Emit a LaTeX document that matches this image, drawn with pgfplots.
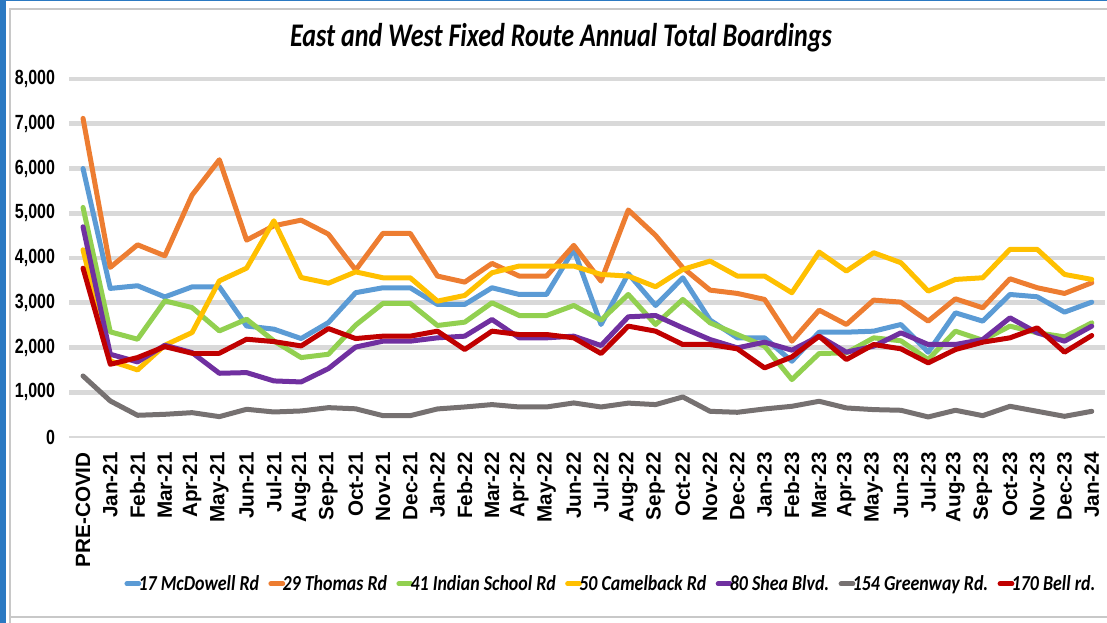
\documentclass[border=0pt]{standalone}
\usepackage{pgfplots}
\pgfplotsset{compat=1.18}
\usepackage{pgfplotstable}
\usepackage{graphicx}
\usepackage{fontspec}
\setmainfont{Carlito}
\newfontfamily\tickfont{Liberation Sans}

\definecolor{cMcD}{HTML}{5B9BD5}
\definecolor{cTho}{HTML}{ED7D31}
\definecolor{cInd}{HTML}{92D050}
\definecolor{cCam}{HTML}{FFC000}
\definecolor{cShe}{HTML}{7030A0}
\definecolor{cGre}{HTML}{767171}
\definecolor{cBel}{HTML}{C00000}
\definecolor{gridgray}{HTML}{D9D9D9}
\definecolor{frameblue}{RGB}{43,121,194}
\definecolor{framegray}{HTML}{C8C8C8}

% legend text: bold italic, squeezed like the source image
\newcommand\legtxt[1]{\scalebox{0.84}[1]{#1}}

% idx: 0 = PRE-COVID, 1 = Jan-21 ... 37 = Jan-24
\pgfplotstableread{
idx mcd  tho  ind  cam  she  gre  bel
0   6000 7120 5130 4183 4697 1364 3773
1   3320 3790 2349 1700 1849 805  1625
2   3380 4295 2185 1499 1678 485  1775
3   3130 4049 3042 2050 2050 507  2020
4   3355 5406 2893 2334 1886 544  1871
5   3355 6196 2371 3489 1424 455  1871
6   2480 4399 2632 3773 1439 619  2185
7   2410 4720 2147 4831 1253 559  2132
8   2200 4846 1775 3564 1230 582  2035
9   2557 4533 1849 3437 1528 656  2423
10  3225 3730 2500 3690 2010 630  2200
11  3335 4551 2984 3558 2141 477  2253
12  3335 4551 2984 3558 2141 477  2253
13  2962 3596 2492 3036 2216 627  2365
14  2962 3461 2566 3163 2253 671  1955
15  3335 3879 2999 3670 2626 724  2365
16  3185 3596 2715 3820 2216 671  2290
17  3185 3596 2715 3820 2216 671  2290
18  4193 4282 2939 3820 2253 761  2216
19  2514 3484 2611 3633 2044 671  1865
20  3650 5073 3185 3596 2686 757  2477
21  2939 4506 2514 3357 2715 724  2365
22  3558 3782 3074 3745 2439 895  2067
23  2611 3282 2551 3931 2178 574  2067
24  2216 3208 2290 3596 1992 552  1970
25  2216 3074 2029 3596 2119 627  1544
26  1693 2141 1283 3223 1940 686  1790
27  2342 2835 1865 4133 2253 798  2253
28  2342 2514 1880 3708 1895 649  1731
29  2365 3059 2216 4118 2029 612  2067
30  2514 3014 2150 3894 2328 597  1970
31  1895 2589 1731 3260 2067 448  1656
32  2775 3088 2365 3521 2067 597  1955
33  2589 2887 2163 3558 2178 477  2119
34  3185 3536 2477 4193 2663 686  2216
35  3133 3335 2328 4193 2328 574  2439
36  2790 3208 2238 3633 2141 462  1895
37  3014 3447 2551 3521 2477 574  2268
}\boardings

\begin{document}
\begin{tikzpicture}
% page frame, coordinates in pixels of the 1107x623 picture
\begin{scope}[x=0.75pt, y=-0.75pt, shift={(-52.05pt,327.75pt)}]
  \fill[frameblue] (0,0) rectangle (6,623);
  \fill[frameblue] (0,0) rectangle (1107,1.5);
  \draw[framegray, line width=1.5pt] (10,623) -- (10,9) -- (1107,9);
  \draw[framegray, line width=1.5pt] (10,617.5) -- (1107,617.5);
  \node[font=\bfseries\itshape\fontsize{24.75}{26}\selectfont, xscale=0.79]
    at (561,38) {East and West Fixed Route Annual Total Boardings};
\end{scope}

\begin{axis}[
  at={(0,0)}, anchor=south west,
  scale only axis, width=777pt, height=268.5pt,
  xmin=-0.5, xmax=37.5, ymin=0, ymax=8000,
  axis line style={draw=none},
  major tick length=0pt, tick style={draw=none},
  xtick={0,...,37},
  xticklabels={PRE-COVID,Jan-21,Feb-21,Mar-21,Apr-21,May-21,Jun-21,Jul-21,Aug-21,Sep-21,Oct-21,Nov-21,Dec-21,Jan-22,Feb-22,Mar-22,Apr-22,May-22,Jun-22,Jul-22,Aug-22,Sep-22,Oct-22,Nov-22,Dec-22,Jan-23,Feb-23,Mar-23,Apr-23,May-23,Jun-23,Jul-23,Aug-23,Sep-23,Oct-23,Nov-23,Dec-23,Jan-24},
  x tick label style={rotate=90, anchor=east, font=\tickfont\bfseries\fontsize{15.5}{15.5}\selectfont},
  xticklabel shift=8pt,
  ytick={1000,2000,...,8000},
  extra y ticks={0},
  extra y tick style={major grid style={line width=0.9pt, color=gridgray}},
  ymajorgrids,
  major grid style={line width=3.5pt, color=gridgray},
  /pgf/number format/.cd, 1000 sep={,}, assume math mode=true, /pgfplots/.cd,
  y tick label style={font=\tickfont\bfseries\fontsize{15.4}{15.4}\selectfont, xscale=0.78},
  yticklabel shift=8pt,
  legend columns=7,
  legend style={at={(0.523,-0.41)}, anchor=center, draw=none, fill=none,
    font=\bfseries\itshape\fontsize{16}{16}\selectfont,
    /tikz/every even column/.append style={column sep=5pt},
    /tikz/every odd column/.append style={column sep=-4pt}},
  legend image code/.code={\draw[#1, line width=3.6pt, line cap=round] (0pt,0pt) -- (9pt,0pt);},
  every axis plot/.append style={line width=3.75pt, line join=round, line cap=round, no markers},
]
\addplot[cMcD] table[x=idx, y=mcd] {\boardings};
\addlegendentry{\legtxt{17 McDowell Rd}}
\addplot[cTho] table[x=idx, y=tho] {\boardings};
\addlegendentry{\legtxt{29 Thomas Rd}}
\addplot[cInd] table[x=idx, y=ind] {\boardings};
\addlegendentry{\legtxt{41 Indian School Rd}}
\addplot[cCam] table[x=idx, y=cam] {\boardings};
\addlegendentry{\legtxt{50 Camelback Rd}}
\addplot[cShe] table[x=idx, y=she] {\boardings};
\addlegendentry{\legtxt{80 Shea Blvd.}}
\addplot[cGre] table[x=idx, y=gre] {\boardings};
\addlegendentry{\legtxt{154 Greenway Rd.}}
\addplot[cBel] table[x=idx, y=bel] {\boardings};
\addlegendentry{\legtxt{170 Bell rd.}}
\end{axis}

% the page is exactly the 1107x623 frame
\pgfresetboundingbox
\begin{scope}[x=0.75pt, y=-0.75pt, shift={(-52.05pt,327.75pt)}]
  \useasboundingbox (0,0) rectangle (1107,623);
\end{scope}
\end{tikzpicture}
\end{document}
